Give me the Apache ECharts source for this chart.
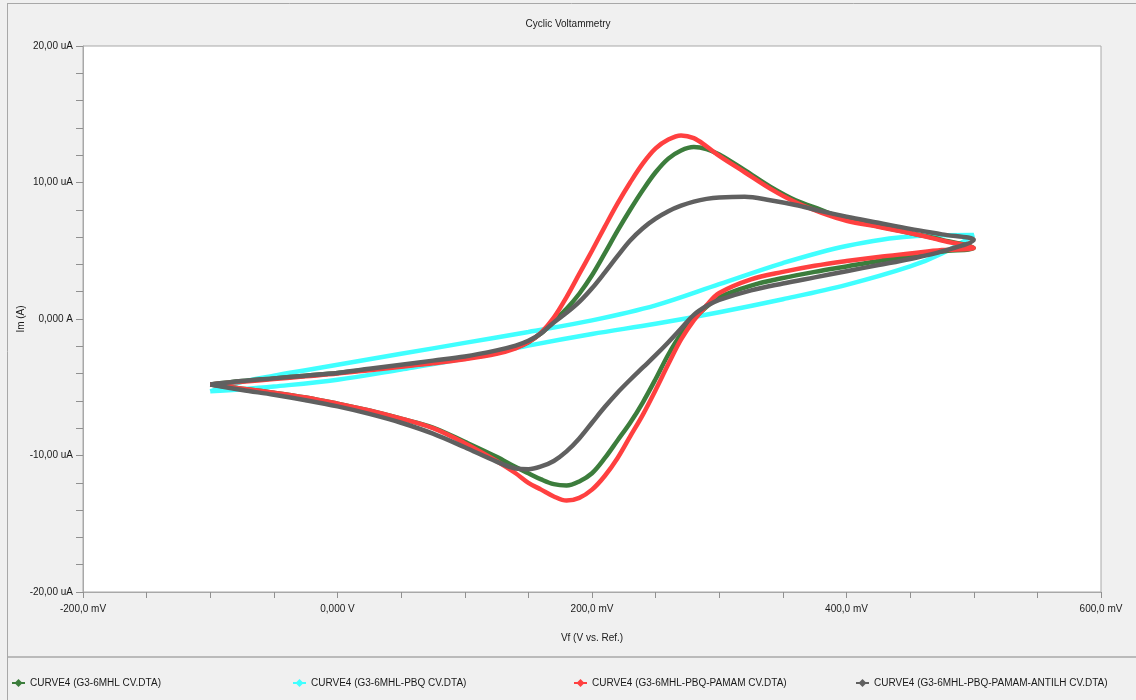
<!DOCTYPE html>
<html>
<head>
<meta charset="utf-8">
<script src="https://cdn.jsdelivr.net/npm/echarts@6/dist/echarts.min.js"></script>
<style>
html,body{margin:0;padding:0;background:#f0f0f0;}
#chart{width:1136px;height:700px;}
</style>
</head>
<body>
<div id="chart"></div>
<script>
// ---- Data (potential in mV, current in uA) ----
const titleText = 'Cyclic Voltammetry';
const xAxisName = 'Vf (V vs. Ref.)';
const yAxisName = 'Im (A)';
const seriesNames = [
  'CURVE4 (G3-6MHL CV.DTA)',
  'CURVE4 (G3-6MHL-PBQ CV.DTA)',
  'CURVE4 (G3-6MHL-PBQ-PAMAM CV.DTA)',
  'CURVE4 (G3-6MHL-PBQ-PAMAM-ANTILH CV.DTA)'
];
const xTickValues = [-200, 0, 200, 400, 600];
const xTickLabels = ['-200,0 mV', '0,000 V', '200,0 mV', '400,0 mV', '600,0 mV'];
const yTickValues = [-20, -10, 0, 10, 20];
const yTickLabels = ['-20,00 uA', '-10,00 uA', '0,000 A', '10,00 uA', '20,00 uA'];

// forward (anodic) sweep potentials
const vForward = [-100,-75,-50,-25,0,25,50,75,100,125,140,150,160,170,180,190,200,210,220,230,240,250,260,270,280,290,300,320,340,360,380,400,425,450,475,500];
// reverse (cathodic) sweep potentials
const vReverse = [500,475,450,425,400,375,350,325,300,290,280,270,260,250,240,230,220,210,200,190,180,170,160,150,140,125,100,75,50,25,0,-25,-50,-75,-100];

const greenForward = [-4.8,-4.55,-4.35,-4.15,-3.95,-3.7,-3.45,-3.2,-2.9,-2.5,-2.1,-1.7,-1.05,-0.15,0.75,1.85,3.2,4.8,6.45,8.0,9.45,10.75,11.75,12.35,12.6,12.45,12.05,10.9,9.7,8.7,8.0,7.3,6.8,6.3,5.8,5.2];
const greenReverse = [5.2,4.95,4.6,4.25,3.85,3.45,3.0,2.45,1.6,0.9,0.0,-1.1,-2.6,-4.4,-6.1,-7.6,-8.9,-10.2,-11.3,-11.9,-12.2,-12.1,-11.75,-11.3,-10.85,-10.1,-9.0,-7.95,-7.3,-6.7,-6.2,-5.75,-5.4,-5.1,-4.8];

const redForward = [-4.8,-4.6,-4.4,-4.2,-4.0,-3.75,-3.5,-3.25,-2.95,-2.55,-2.15,-1.7,-1.0,0.1,1.6,3.3,5.0,6.75,8.45,10.0,11.4,12.5,13.15,13.45,13.25,12.65,11.95,10.75,9.55,8.55,7.8,7.2,6.75,6.3,5.75,5.2];
const redReverse = [5.2,5.05,4.8,4.55,4.25,3.9,3.45,2.9,1.9,1.0,-0.1,-1.5,-3.3,-5.2,-7.0,-8.6,-10.2,-11.5,-12.5,-13.1,-13.3,-13.0,-12.5,-12.0,-11.3,-10.4,-9.1,-8.0,-7.3,-6.7,-6.2,-5.75,-5.4,-5.1,-4.8];

const grayForward = [-4.8,-4.55,-4.35,-4.15,-3.95,-3.65,-3.35,-3.05,-2.75,-2.3,-1.95,-1.6,-1.05,-0.25,0.45,1.25,2.25,3.4,4.6,5.75,6.65,7.35,7.9,8.3,8.6,8.8,8.9,8.95,8.7,8.35,7.9,7.5,7.05,6.6,6.2,5.8];
const grayReverse = [5.8,4.95,4.4,3.95,3.5,3.05,2.6,2.1,1.4,0.95,0.3,-0.7,-1.7,-2.65,-3.55,-4.45,-5.4,-6.45,-7.6,-8.75,-9.7,-10.4,-10.8,-11.0,-10.95,-10.45,-9.4,-8.4,-7.6,-6.95,-6.4,-5.95,-5.55,-5.2,-4.8];

const cyanVForward = [-100,-75,-50,-25,0,50,100,150,200,250,300,350,400,450,500];
const cyanForward = [-5.3,-4.6,-4.15,-3.75,-3.35,-2.55,-1.75,-0.95,-0.1,1.0,2.55,4.1,5.35,6.05,6.15];
const cyanVReverse = [500,475,450,400,350,300,250,200,150,100,50,0,-50,-75,-100];
const cyanReverse = [6.15,4.8,3.85,2.5,1.45,0.5,-0.35,-1.1,-1.95,-2.9,-3.7,-4.45,-4.95,-5.15,-5.3];

const seriesColors = ['#3c7d3c', '#40ffff', '#ff4040', '#606060'];

// ---- build ----
function loop(vf, f, vr, r) {
  const out = [];
  for (let i = 0; i < vf.length; i++) out.push([vf[i], f[i]]);
  for (let i = 0; i < vr.length; i++) out.push([vr[i], r[i]]);
  return out;
}
const curves = [
  loop(vForward, greenForward, vReverse, greenReverse),
  loop(cyanVForward, cyanForward, cyanVReverse, cyanReverse),
  loop(vForward, redForward, vReverse, redReverse),
  loop(vForward, grayForward, vReverse, grayReverse)
];
const zOrder = [3, 2, 4, 5];

const FONT = "'Liberation Sans Narrow', 'Arial Narrow', 'Liberation Sans', Arial, sans-serif";
const txt = { fontFamily: FONT, fontSize: 10, color: '#1a1a1a' };

const chart = echarts.init(document.getElementById('chart'));
const legendLeft = [11, 292, 573, 855];

chart.setOption({
  backgroundColor: '#f0f0f0',
  animation: false,
  title: {
    text: titleText, left: 'center', top: 14,
    textStyle: Object.assign({}, txt, { fontWeight: 'normal' })
  },
  graphic: [
    { type: 'line', shape: { x1: 7.5, y1: 3, x2: 7.5, y2: 700 }, style: { stroke: '#a8a8a8', lineWidth: 1 } },
    { type: 'line', shape: { x1: 7, y1: 3.5, x2: 1136, y2: 3.5 }, style: { stroke: '#a8a8a8', lineWidth: 1 } },
    { type: 'line', shape: { x1: 7, y1: 657, x2: 1136, y2: 657 }, style: { stroke: '#a8a8a8', lineWidth: 1.5 } }
  ],
  legend: seriesNames.map((n, i) => ({
    data: [n], left: legendLeft[i], top: 678, padding: 0,
    itemWidth: 13, itemHeight: 10, itemGap: 5,
    lineStyle: { width: 2 },
    textStyle: Object.assign({}, txt, { padding: [0, 0, 0, 0] }),
    selectedMode: false
  })),
  grid: {
    left: 83, top: 46, right: 35, bottom: 108,
    outerBoundsMode: 'none', containLabel: false,
    show: true, backgroundColor: '#ffffff', borderColor: '#a8a8a8', borderWidth: 1
  },
  xAxis: {
    type: 'value', min: -200, max: 600, interval: 200,
    name: xAxisName, nameLocation: 'middle', nameGap: 41, nameMoveOverlap: false,
    nameTextStyle: txt,
    axisLine: { show: true, onZero: false, lineStyle: { color: '#a8a8a8' } },
    axisTick: { show: true, inside: false, length: 6, lineStyle: { color: '#909090' } },
    minorTick: { show: true, splitNumber: 4, length: 6, lineStyle: { color: '#909090' } },
    splitLine: { show: false },
    axisLabel: Object.assign({}, txt, {
      margin: 12,
      formatter: v => { const k = xTickValues.indexOf(v); return k >= 0 ? xTickLabels[k] : ''; }
    })
  },
  yAxis: {
    type: 'value', min: -20, max: 20, interval: 10,
    name: yAxisName, nameLocation: 'middle', nameGap: 57, nameRotate: 90, nameMoveOverlap: false,
    nameTextStyle: txt,
    axisLine: { show: true, onZero: false, lineStyle: { color: '#a8a8a8' } },
    axisTick: { show: true, inside: false, length: 7, lineStyle: { color: '#909090' } },
    minorTick: { show: true, splitNumber: 5, length: 7, lineStyle: { color: '#909090' } },
    splitLine: { show: false },
    axisLabel: Object.assign({}, txt, {
      margin: 10,
      formatter: v => { const k = yTickValues.indexOf(v); return k >= 0 ? yTickLabels[k] : ''; }
    })
  },
  series: curves.map((d, i) => ({
    name: seriesNames[i], type: 'line', data: d,
    symbol: 'diamond', showSymbol: false, smooth: 0.35,
    z: zOrder[i],
    itemStyle: { color: seriesColors[i] },
    lineStyle: { color: seriesColors[i], width: 4.5 },
    emphasis: { disabled: true }
  }))
});
</script>
</body>
</html>
